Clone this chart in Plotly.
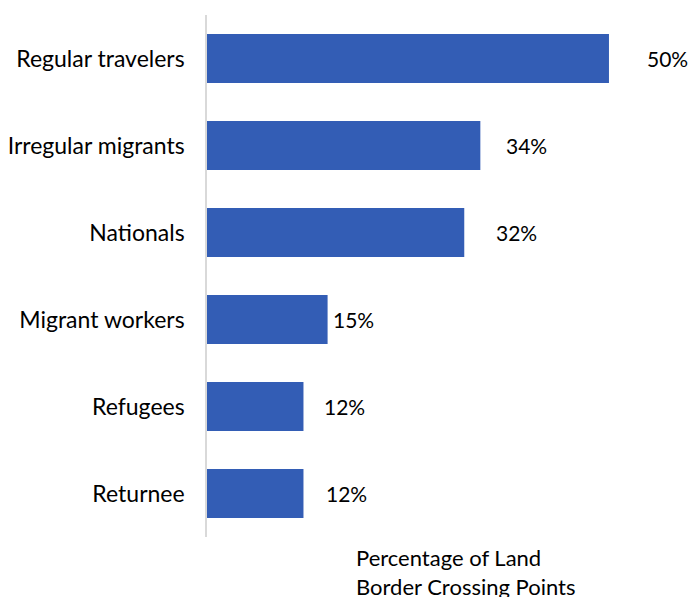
import plotly.graph_objects as go

# Share of land border crossing points, by traveller group
categories = ["Regular travelers", "Irregular migrants", "Nationals",
              "Migrant workers", "Refugees", "Returnee"]
values = [50, 34, 32, 15, 12, 12]
value_labels = ["50%", "34%", "32%", "15%", "12%", "12%"]

# horizontal nudge (px) of each value label from its bar end
label_nudge = [36, 24, 30, 3, 19, 21]

BAR = "#335DB5"
FONT = "Lato"

fig = go.Figure(go.Bar(
    x=values, y=categories, orientation="h",
    marker=dict(color=BAR, line=dict(width=0)),
    hoverinfo="skip",
))

for cat, v, lab, dx in zip(categories, values, value_labels, label_nudge):
    fig.add_annotation(x=v, y=cat, xref="x", yref="y", text=lab,
                       showarrow=False, xanchor="left", yanchor="middle",
                       xshift=dx, font=dict(family=FONT, size=21, color="#000000"))

fig.add_annotation(x=(354 - 207) / 481, y=-0.02, xref="paper", yref="paper",
                   xanchor="left", yanchor="top", align="left", showarrow=False,
                   yshift=5,
                   text="Percentage of Land<br>Border Crossing Points",
                   font=dict(family=FONT, size=22, color="#000000"))

fig.update_layout(
    width=688, height=597,
    margin=dict(l=207, r=0, t=15, b=60),
    paper_bgcolor="white", plot_bgcolor="white",
    bargap=0.437,
    showlegend=False,
    font=dict(family=FONT, size=21, color="#000000"),
)
fig.update_xaxes(range=[0, 59.83], visible=False, fixedrange=True)
fig.update_yaxes(autorange="reversed", showline=True, linecolor="#D9D9D9",
                 linewidth=1.5, ticks="", ticklabelstandoff=16,
                 showgrid=False, zeroline=False,
                 tickfont=dict(family=FONT, size=23, color="#000000"))

fig.write_html("out.html")
